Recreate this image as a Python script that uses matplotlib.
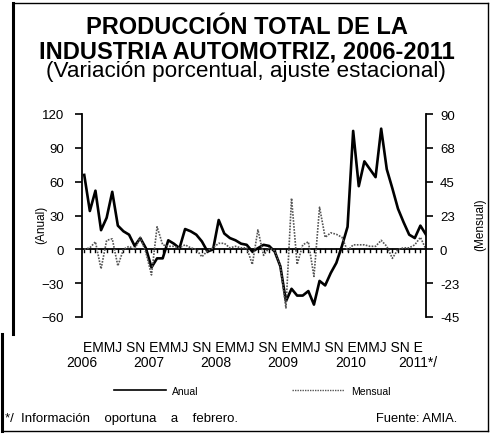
import numpy as np
import matplotlib
matplotlib.use("Agg")
import matplotlib.pyplot as plt
import matplotlib.transforms as mtransforms
from matplotlib.lines import Line2D

plt.rcParams['font.family'] = ['Liberation Sans', 'DejaVu Sans']

# monthly series, Jan 2006 .. Feb 2011
anual = [66, 34, 52, 17, 28, 51, 21, 16, 13, 3, 10, 1,
         -16, -8, -8, 8, 5, 1, 18, 16, 13, 7, -2, 0,
         26, 14, 10, 8, 5, 4, -2, 1, 4, 3, -2, -15,
         -46, -35, -41, -41, -37, -49, -28, -32, -21, -12, 3, 20,
         105, 56, 78, 71, 64, 107, 71, 54, 36, 24, 13, 10,
         21, 13]
mensual = [0, 1, 5, -13, 6, 7, -11, 0, 2, 0, 8, -2,
           -17, 15, 3, 2, 2, 1, 3, 1, 0, -5, -1, 1,
           4, 4, 1, 2, 1, 1, -10, 13, -4, 1, -1, -11,
           -39, 34, -10, 3, 5, -18, 28, 8, 11, 10, 8, -1,
           3, 3, 3, 2, 2, 6, 2, -6, 0, 1, 1, 3,
           8, 0]
years = ["2006", "2007", "2008", "2009", "2010", "2011*/"]
month_letters = "EMMJ SN EMMJ SN EMMJ SN EMMJ SN EMMJ SN E"
left_ticks = [120, 90, 60, 30, 0, -30, -60]
right_ticks = [90, 67.5, 45, 22.5, 0, -22.5, -45]
right_labels = ["90", "68", "45", "23", "0", "-23", "-45"]

W, H = 493, 435
fig = plt.figure(figsize=(W / 100, H / 100), dpi=100)

def fx(px):
    return px / W

def fy(py):
    return 1 - py / H

ax = fig.add_axes([fx(82), fy(318), fx(426) - fx(82), fy(115) - fy(318)])
ax2 = ax.twinx()

x = np.arange(len(anual))
ax.plot(x, anual, color="black", lw=1.9, label="Anual", zorder=3)
ax2.plot(x, mensual, color="#555555", lw=1.2, ls=(0, (1, 0.8)), label="Mensual")

ax.set_xlim(-0.4, len(anual) - 1)
ax.set_ylim(-60, 120)
ax2.set_ylim(-45, 90)
ax.set_yticks(left_ticks)
ax2.set_yticks(right_ticks)
ax2.set_yticklabels(right_labels)

for a in (ax, ax2):
    a.spines['top'].set_visible(False)
    a.spines['bottom'].set_visible(False)
    a.patch.set_visible(False)
ax2.spines['left'].set_visible(False)
ax.spines['right'].set_visible(False)
ax.spines['left'].set_linewidth(1.3)
ax2.spines['right'].set_linewidth(1.3)

# zero line with monthly ticks hanging below
ax.axhline(0, color="black", lw=1.3, zorder=2)
ax.set_xticks(x)
ax.tick_params(axis='x', length=0, labelbottom=False)
for xi in x:
    ax.plot([xi, xi], [0, -2.5], color="black", lw=1, zorder=2)

ax.tick_params(axis='y', length=5, width=1.2, labelsize=9.5, pad=8)
ax2.tick_params(axis='y', length=5, width=1.2, labelsize=9.5, pad=5)

ax.set_ylabel("(Anual)", fontsize=8.5)
ax.yaxis.set_label_coords(-0.10, 0.46)
ax2.set_ylabel("(Mensual)", fontsize=8.5)
ax2.yaxis.set_label_coords(1.14, 0.46)

# month / year labels under the plot
trans = mtransforms.blended_transform_factory(ax.transData, fig.transFigure)
ax.text(-0.3, fy(352), month_letters, transform=trans, fontsize=10,
        ha='left', va='baseline')
for i, yr in enumerate(years):
    ax.text(i * 12 - 0.5, fy(367), yr, transform=trans, fontsize=10,
            ha='center', va='baseline')

# legend
handles = [Line2D([], [], color="black", lw=1.2),
           Line2D([], [], color="#555555", lw=1.0, ls=(0, (1, 0.8)))]
fig.legend(handles, ["Anual", "Mensual"], loc='center',
           bbox_to_anchor=(fx(252), fy(392)), ncol=2, frameon=False,
           fontsize=7.5, handlelength=5, columnspacing=9, handletextpad=0.6)

# titles
fig.text(fx(247), fy(34), "PRODUCCIÓN TOTAL DE LA", fontsize=17,
         fontweight='bold', ha='center', va='baseline')
fig.text(fx(247), fy(58), "INDUSTRIA AUTOMOTRIZ, 2006-2011", fontsize=17,
         fontweight='bold', ha='center', va='baseline')
fig.text(fx(246), fy(77), "(Variación porcentual, ajuste estacional)",
         fontsize=16.2, ha='center', va='baseline')

# footnotes
fig.text(fx(5), fy(422), "*/  Información    oportuna    a    febrero.",
         fontsize=9.5, ha='left', va='baseline')
fig.text(fx(376), fy(422), "Fuente: AMIA.", fontsize=9.3, ha='left',
         va='baseline')

# frame
fig.add_artist(Line2D([fx(13), fx(488)], [fy(4), fy(4)], color="black", lw=1))
fig.add_artist(Line2D([fx(488), fx(488)], [fy(4), fy(432)], color="black", lw=1))
fig.add_artist(Line2D([fx(13), fx(13)], [fy(4), fy(335)], color="black", lw=2.2))
fig.add_artist(Line2D([fx(2), fx(2)], [fy(335), fy(432)], color="black", lw=2.2))
fig.add_artist(Line2D([fx(2), fx(488)], [fy(432), fy(432)], color="black", lw=1))

fig.savefig("out.png", dpi=100)
